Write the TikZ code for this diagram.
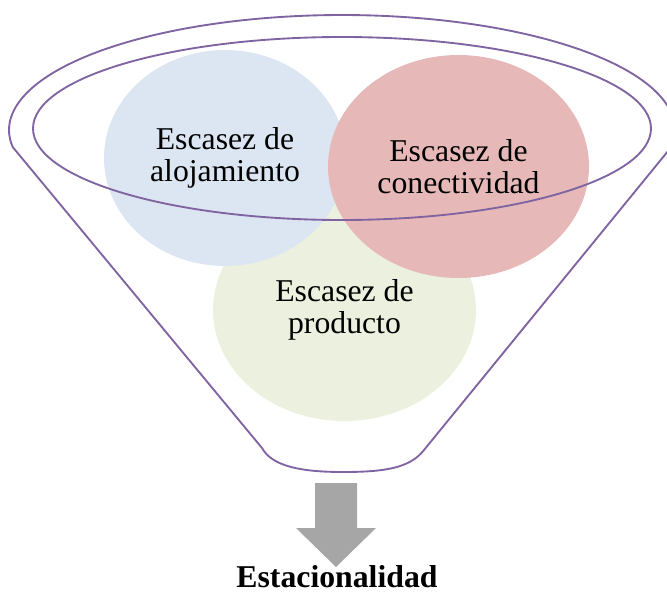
\documentclass[tikz,border=0pt]{standalone}
\usepackage{fontspec}
\setmainfont{Liberation Serif}
\usetikzlibrary{shapes.geometric}
\definecolor{escblue}{HTML}{DCE6F2}
\definecolor{escred}{HTML}{E6B9B8}
\definecolor{escgreen}{HTML}{EBF1DE}
\definecolor{funnelline}{HTML}{8064A2}
\definecolor{arrowgray}{HTML}{A6A6A6}
\begin{document}
\begin{tikzpicture}[x=0.75pt,y=-0.75pt,
    every node/.style={font=\fontsize{23.8}{24}\selectfont},
    bubble/.style={ellipse, inner sep=0pt, align=center},
    funnel/.style={draw=funnelline, line width=1.4pt, line join=round}]
    \clip (0,0) rectangle (667,592);

    % circles: green at the back, red in front
    \node[bubble, fill=escgreen, minimum width=197.25pt, minimum height=166.5pt] (producto) at (344.5,310) {Escasez de\\producto};
    \node[bubble, fill=escblue, minimum width=181.5pt, minimum height=162pt] (alojamiento) at (225,158) {Escasez de\\alojamiento};
    \node[bubble, fill=escred, minimum width=195.75pt, minimum height=167.25pt] (conectividad) at (458.5,166.5) {Escasez de\\conectividad};

    % funnel
    \draw[funnel] (342,128.5) ellipse [x radius=309, y radius=91.5];
    \draw[funnel] plot[smooth, samples=60, domain=171.5:368.5] ({342+333*cos(\x)},{130+115*sin(\x)})
        -- (424,450) .. controls (410,468) and (385,472) .. (343,472)
        .. controls (300,472) and (272,466) .. (262,448) -- cycle;

    % arrow and result
    \fill[arrowgray] (315,483) -- (357,483) -- (357,528) -- (376,528) -- (336,567)
        -- (296,528) -- (315,528) -- cycle;
    \node[anchor=base, font=\fontsize{23.8}{24}\selectfont\bfseries] (estacionalidad) at (337,587) {Estacionalidad};
\end{tikzpicture}
\end{document}
